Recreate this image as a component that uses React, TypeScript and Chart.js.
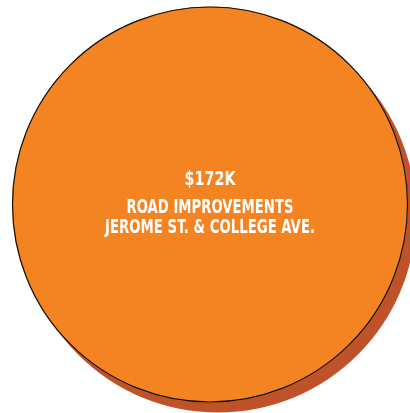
import React, { useEffect, useRef } from "react";
import { Chart, registerables } from "chart.js";

Chart.register(...registerables);

const categories = ["ROAD IMPROVEMENTS", "JEROME ST. & COLLEGE AVE."];
const values = [172];
const valueLabels = ["$172K"];

const ORANGE = "#F48421";
const SHADOW = "#C0522A";

const shadowAndText = {
  id: "shadowAndText",
  beforeDatasetsDraw(chart: any) {
    const arc = chart.getDatasetMeta(0).data[0];
    if (!arc) return;
    const ctx = chart.ctx;
    ctx.save();
    ctx.beginPath();
    ctx.arc(arc.x + 8, arc.y + 10, arc.outerRadius, 0, Math.PI * 2);
    ctx.fillStyle = SHADOW;
    ctx.fill();
    ctx.restore();
  },
  afterDatasetsDraw(chart: any) {
    const arc = chart.getDatasetMeta(0).data[0];
    if (!arc) return;
    const ctx = chart.ctx;
    ctx.save();
    ctx.beginPath();
    ctx.arc(arc.x, arc.y, arc.outerRadius - 0.5, 0, Math.PI * 2);
    ctx.strokeStyle = "#111111";
    ctx.lineWidth = 1.2;
    ctx.stroke();
    ctx.fillStyle = "#ffffff";
    ctx.textAlign = "center";
    ctx.textBaseline = "middle";
    const fam = '"Liberation Sans Narrow", "DejaVu Sans Condensed", "Arial Narrow", sans-serif';
    const lines = [
      { t: valueLabels[0], dy: -24.5, size: 20, w: 51 },
      { t: categories[0], dy: 4, size: 19, w: 167 },
      { t: categories[1], dy: 23.5, size: 19, w: 210 },
    ];
    for (const l of lines) {
      ctx.font = `bold ${l.size}px ${fam}`;
      const m = ctx.measureText(l.t).width;
      const sx = l.w / m;
      ctx.save();
      ctx.translate(arc.x, arc.y + l.dy);
      ctx.scale(sx, 1);
      ctx.fillText(l.t, 0, 0);
      ctx.restore();
    }
    ctx.restore();
  },
};

export default function App() {
  const ref = useRef<HTMLCanvasElement>(null);
  useEffect(() => {
    document.body.style.margin = "0";
    const chart = new Chart(ref.current!, {
      type: "pie",
      data: {
        labels: [categories.join(" ")],
        datasets: [
          {
            data: values,
            backgroundColor: [ORANGE],
            borderWidth: 0,
          },
        ],
      },
      options: {
        responsive: false,
        animation: false,
        layout: { padding: { left: 12, right: 2, top: 6, bottom: 10 } },
        plugins: {
          legend: { display: false },
          tooltip: { enabled: false },
        },
      },
      plugins: [shadowAndText],
    });
    return () => chart.destroy();
  }, []);
  return (
    <div style={{ width: 410, height: 413 }}>
      <canvas ref={ref} width={410} height={413} />
    </div>
  );
}
